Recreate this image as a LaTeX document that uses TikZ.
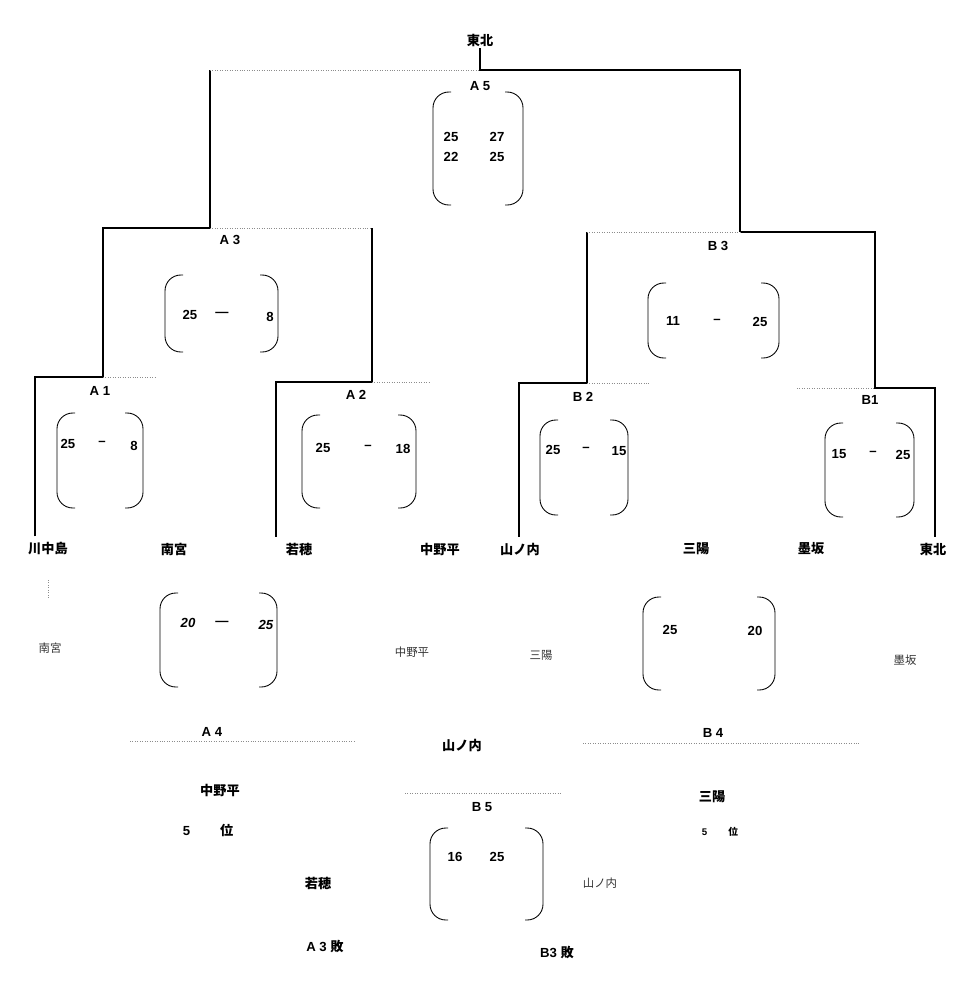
\documentclass[tikz,border=0pt]{standalone}
\usepackage{fontspec}
\setmainfont{Liberation Sans}
\newfontfamily\jp{Noto Sans CJK JP}
\begin{document}
\begin{tikzpicture}[x=0.02cm, y=-0.02cm, font=\bfseries\fontsize{7.5}{9}\selectfont,
		win/.style={line width=1.1pt}, lose/.style={black!45, densely dotted, line width=0.4pt},
		paren/.style={line width=0.5pt, rounded corners=9pt},
		team/.style={font=\jp\bfseries\fontsize{7.5}{9}\selectfont},
		pale/.style={font=\jp\fontsize{6.5}{8}\selectfont, text=black!80}]
			\useasboundingbox (0,0) rectangle (967,988);
			% teams and final
			\node[team, inner sep=1pt] (champ) at (480,40) {東北};
			\foreach \n/\x/\lbl in {t1/48/川中島, t2/174/南宮, t3/299/若穂, t4/440/中野平, t5/520/山ノ内, t6/696/三陽, t7/811/墨坂, t8/933/東北}{
			\node[team] (\n) at (\x,549) {\lbl};
			}
			\path (210,70) coordinate (a5l) (480,70) coordinate (a5m) (740,70) coordinate (a5r)
			(103,228) coordinate (a3l) (210,228) coordinate (a3m) (372,228) coordinate (a3r)
			(35,377) coordinate (a1l) (103,377) coordinate (a1m) (155,377) coordinate (a1r)
			(276,382) coordinate (a2l) (372,382) coordinate (a2m) (430,382) coordinate (a2r)
			(587,232) coordinate (b3l) (740,232) coordinate (b3m) (875,232) coordinate (b3r)
			(519,383) coordinate (b2l) (587,383) coordinate (b2m) (650,383) coordinate (b2r)
			(797,388) coordinate (b1l) (875,388) coordinate (b1m) (935,388) coordinate (b1r);
			% winners
			\draw[win] (champ.south) -- (a5m) -- (a5r) -- (b3m);
			\draw[win] (a5l) -- (a3m);
			\draw[win] (a1l|-t1.north) -- (a1l) -- (a1m) -- (a3l) -- (a3m);
			\draw[win] (a2l|-t3.north) -- (a2l) -- (a2m) -- (a3r);
			\draw[win] (b2l|-t5.north) -- (b2l) -- (b2m) -- (b3l);
			\draw[win] (b1r|-t8.north) -- (b1r) -- (b1m) -- (b3r) -- (b3m);
			\draw[lose] (a5l) -- (a5m) (a3m) -- (a3r) (a1m) -- (a1r) (a2m) -- (a2r) (b3l) -- (b3m) (b2m) -- (b2r) (b1l) -- (b1m);
			% match names
			\foreach \n/\x/\y/\lbl in {a5/480/86/A 5, a3/230/240/A 3, a1/100/391/A 1, a2/356/395/A 2, b3/718/246/B 3, b2/583/397/B 2, b1/870/400/B1, a4/212/732/A 4, b4/713/733/B 4, b5/482/807/B 5}{
			\node (\n-lab) at (\x,\y) {\lbl};
			}
			% score brackets
			\foreach \n/\xa/\ya/\xb/\yb in {a5/433/92/523/205, a3/165/275/278/352, a1/57/413/143/508, a2/302/415/416/508, b3/648/283/779/358, b2/540/420/628/515, b1/825/423/914/517, a4/160/593/277/687, b4/643/597/775/690, b5/430/828/543/920}{
			\path (\xa,\ya) coordinate (\n-nw) (\xb,\yb) coordinate (\n-se);
			\draw[paren] (\n-nw) ++(18,0) -- (\n-nw) -- (\n-nw|-\n-se) -- ++(18,0)
			(\n-se) ++(-18,0) -- (\n-se) -- (\n-se|-\n-nw) -- ++(-18,0);
			}
			\foreach \x/\y/\s [count=\i] in {451/137/25, 497/137/27, 451/157/22, 497/157/25, 190/315/25, 222/314/—, 270/317/8, 68/444/25, 102/443/–, 134/446/8, 323/448/25, 368/447/–, 403/449/18, 673/321/11, 717/321/–, 760/322/25, 553/450/25, 586/449/–, 619/451/15, 839/454/15, 873/453/–, 903/455/25, 188/623/\textit{20}, 222/623/—, 266/625/\textit{25}, 670/630/25, 755/631/20, 455/857/16, 497/857/25}{
			\node (s\i) at (\x,\y) {\s};
			}
			% fifth place
			\draw[lose] (48,580) coordinate (a4-up) -- (48,598) coordinate (a4-dn);
			\draw[lose] (130,741) coordinate (a4-a) -- (355,741) coordinate (a4-b);
			\draw[lose] (583,743) coordinate (b4-a) -- (860,743) coordinate (b4-b);
			\draw[lose] (405,793) coordinate (b5-a) -- (560,793) coordinate (b5-b);
			\foreach \n/\x/\y/\lbl in {p1/50/648/南宮, p2/412/652/中野平, p3/541/655/三陽, p4/905/660/墨坂, p5/600/883/山ノ内}{
			\node[pale] (\n) at (\x,\y) {\lbl};
			}
			\foreach \n/\x/\y/\lbl in {w1/462/745/山ノ内, w2/220/790/中野平, w3/712/797/三陽, w4/318/883/若穂}{
			\node[team] (\n) at (\x,\y) {\lbl};
			}
			\node (r1) at (208,830) {5\hspace{17pt}{\jp 位}};
			\node[font=\bfseries\fontsize{5.5}{7}\selectfont] (r2) at (720,832) {5\hspace{12pt}{\jp 位}};
			\node (l1) at (325,946) {A 3 {\jp 敗}};
			\node (l2) at (557,952) {B3 {\jp 敗}};
		\end{tikzpicture}
\end{document}
